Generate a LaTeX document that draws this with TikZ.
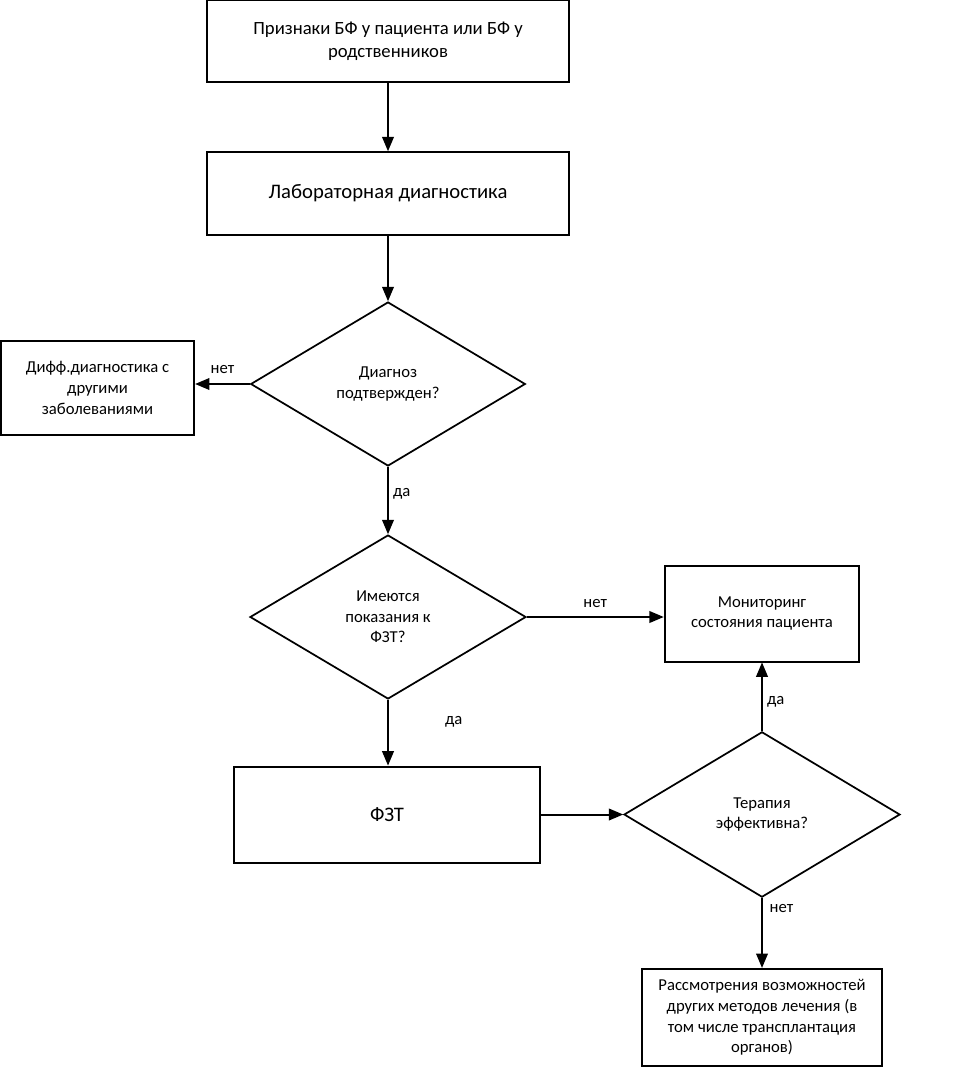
\documentclass[tikz,border=0pt]{standalone}
\usepackage{fontspec}
\setmainfont{Carlito}
\usetikzlibrary{positioning}
\usetikzlibrary{shapes,arrows}
\tikzset{%
  block/.style    = {draw, line width=1.5pt, rectangle, align=center, inner sep=2pt},
  decision/.style = {draw, line width=1.3pt, diamond, align=center, inner sep=0pt}, % question
  answer/.style   = {font=\fontsize{12.5}{15}\selectfont, inner sep=3pt} % yes / no
}

\begin{document}
\begin{tikzpicture}[x=0.75pt, y=-0.75pt, line width=1.5pt, >=triangle 45,
  font=\fontsize{12.5}{15.5}\selectfont]

	\useasboundingbox (0,0) rectangle (974,1077);

	\draw node at (388,41) [block, minimum width=272pt, minimum height=61.5pt, font=\fontsize{14}{17}\selectfont] (signs) {Признаки БФ у пациента или БФ у\\родственников};
	\draw node at (388,193.5) [block, minimum width=272pt, minimum height=62pt, font=\fontsize{15.5}{19}\selectfont] (lab) {Лабораторная диагностика};

	\draw node at (388,384) [decision, minimum width=206pt, minimum height=123pt] (confirmed) {Диагноз\\подтвержден?};
	\draw node at (97.5,388) [block, minimum width=145pt, minimum height=71pt] (diff) {Дифф.диагностика с\\другими\\заболеваниями};

	\draw node at (388,617) [decision, minimum width=207pt, minimum height=123pt] (indic) {Имеются\\показания к\\ФЗТ?};
	\draw node at (762,613.5) [block, minimum width=146pt, minimum height=72pt] (monitor) {Мониторинг\\состояния пациента};

	\draw node at (387,814.5) [block, minimum width=229.5pt, minimum height=72pt, font=\fontsize{15.5}{19}\selectfont] (fzt) {ФЗТ};
	\draw node at (762,814.5) [decision, minimum width=207pt, minimum height=124pt] (effect) {Терапия\\эффективна?};

	\draw node at (762,1017.5) [block, minimum width=180pt, minimum height=73pt] (other) {Рассмотрения возможностей\\других методов лечения (в\\том числе трансплантация\\органов)};

  \draw[->] (signs) -- (lab);
  \draw[->] (lab) -- (confirmed);
  \draw[->] (confirmed.west) -- node[answer, above, yshift=4pt] {нет} (confirmed.west -| diff.east);
  \draw[->] (confirmed.south) -- node[answer, pos=0.4, right] {да} (indic.north);
  \draw[->] (indic.east) -- node[answer, above, yshift=3pt] {нет} (indic.east -| monitor.west);
  \draw[->] (indic.south) -- node[answer, pos=0.33, right, xshift=39pt] {да} (indic.south |- fzt.north);
  \draw[->] (fzt.east) -- (effect.west);
  \draw[->] (effect.north) -- node[answer, pos=0.43, right] {да} (monitor.south);
  \draw[->] (effect.south) -- node[answer, pos=0.15, right, xshift=2pt] {нет} (other.north);

  \end{tikzpicture}
\end{document}
